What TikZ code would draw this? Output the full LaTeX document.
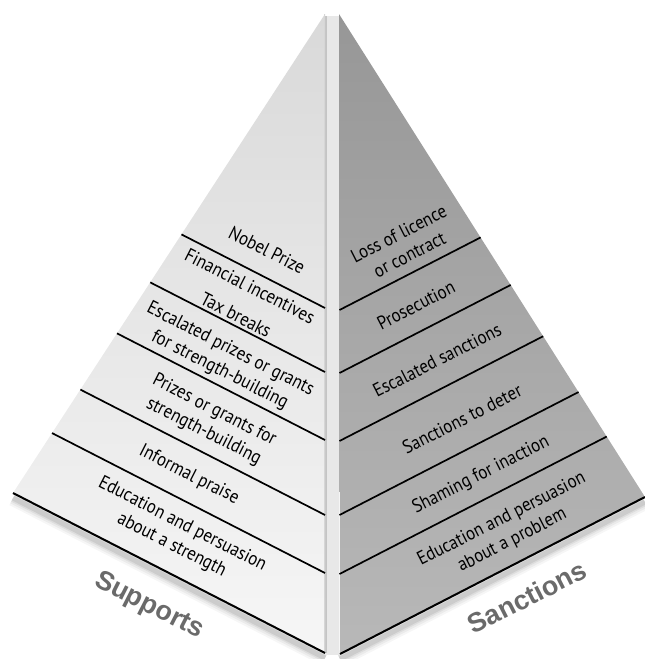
\documentclass[tikz,border=0pt]{standalone}
\usepackage{fontspec}
\setmainfont[FakeStretch=0.89]{PT Sans}
\newfontfamily\labelfont{Liberation Sans}
\usetikzlibrary{calc}
\definecolor{ltop}{HTML}{D9D9D9}
\definecolor{lbot}{HTML}{F6F6F6}
\definecolor{rtop}{HTML}{979797}
\definecolor{rbot}{HTML}{B8B8B8}
\definecolor{stripgray}{HTML}{E8E8E8}
\definecolor{edgegray}{HTML}{C4C4C4}
\definecolor{labelgray}{HTML}{6A6A6A}
\begin{document}
\begin{tikzpicture}[x=1pt,y=-1pt,
  sepline/.style={line width=1.7pt},
  bottomline/.style={line width=2pt},
  leftlabel/.style={rotate=-27, align=center, inner sep=0pt, font=\fontsize{19}{23.5}\selectfont},
  rightlabel/.style={rotate=27, align=center, inner sep=0pt, font=\fontsize{19}{23.5}\selectfont},
  facelabel/.style={inner sep=0pt, text=labelgray, font=\labelfont\bfseries\fontsize{27}{27}\selectfont}
]
\useasboundingbox (0,0) rectangle (645,659);
% corner points
\coordinate (LA) at (325,14);
\coordinate (LC) at (13,493);
\coordinate (LB) at (325,653);
\coordinate (RA) at (339,14);
\coordinate (RC) at (645,497);
\coordinate (RB) at (340,654);
% shadows under the bottom edges
\foreach \w/\o in {16/0.035,12/0.045,8/0.06,5/0.08}{
  \draw[line width=\w pt, black, opacity=\o] ([yshift=-5pt]LC) -- ([yshift=-5pt]LB);
  \draw[line width=\w pt, black, opacity=\o] ([yshift=-5pt]RB) -- ([yshift=-5pt]RC);
}
% spine strip
\fill[stripgray] (325,16) rectangle (339,655);
\draw[edgegray, line width=1.2pt] (326,16) -- (326,653);
% faces
\shade[top color=ltop, bottom color=lbot] (LA) -- (LC) -- (LB) -- cycle;
\shade[top color=rtop, bottom color=rbot] (RA) -- (RC) -- (RB) -- cycle;
\draw[edgegray!70, line width=0.8pt] (324.6,14) -- (324.6,653);
% left separators
\foreach \yy [count=\i] in {308,372,440,515,573}{
  \coordinate (LR\i) at (325,\yy);
  \coordinate (LT\i) at ($(LR\i)+(-312,-160)$);
  \coordinate (LL\i) at (intersection of LA--LC and LR\i--LT\i);
  \draw[sepline] (LL\i) -- (LR\i);
}
% right separators
\foreach \yy [count=\i] in {310,373,441,515,574}{
  \coordinate (RL\i) at (339.5,\yy);
  \coordinate (RT\i) at ($(RL\i)+(305,-157)$);
  \coordinate (RR\i) at (intersection of RA--RC and RL\i--RT\i);
  \draw[sepline] (RL\i) -- (RR\i);
}
\draw[bottomline] (LC) -- (LB);
\draw[bottomline] (RB) -- (RC);
% left labels
\node[leftlabel] (nobel) at (267,250) {Nobel Prize};
\node[leftlabel] (fin) at (250,286) {Financial incentives};
\node[leftlabel] (tax) at (236,315) {Tax breaks};
\node[leftlabel] (escp) at (225,360) {Escalated prizes or grants\\for strength-building};
\node[leftlabel] (prz) at (209,421) {Prizes or grants for\\strength-building};
\node[leftlabel] (inf) at (189,475) {Informal praise};
\node[leftlabel] (edus) at (177,535) {Education and persuasion\\about a strength};
% right labels
\node[rightlabel] (loss) at (404,244) {Loss of licence\\or contract};
\node[rightlabel] (pros) at (416,305) {Prosecution};
\node[rightlabel] (escs) at (437,360) {Escalated sanctions};
\node[rightlabel] (det) at (462,419) {Sanctions to deter};
\node[rightlabel] (sham) at (481,475) {Shaming for inaction};
\node[rightlabel] (edup) at (507,530) {Education and persuasion\\about a problem};
% face titles
\node[facelabel, rotate=-27] (supports) at (149,606) {Supports};
\node[facelabel, rotate=27] (sanctions) at (527,597) {Sanctions};
\end{tikzpicture}
\end{document}
